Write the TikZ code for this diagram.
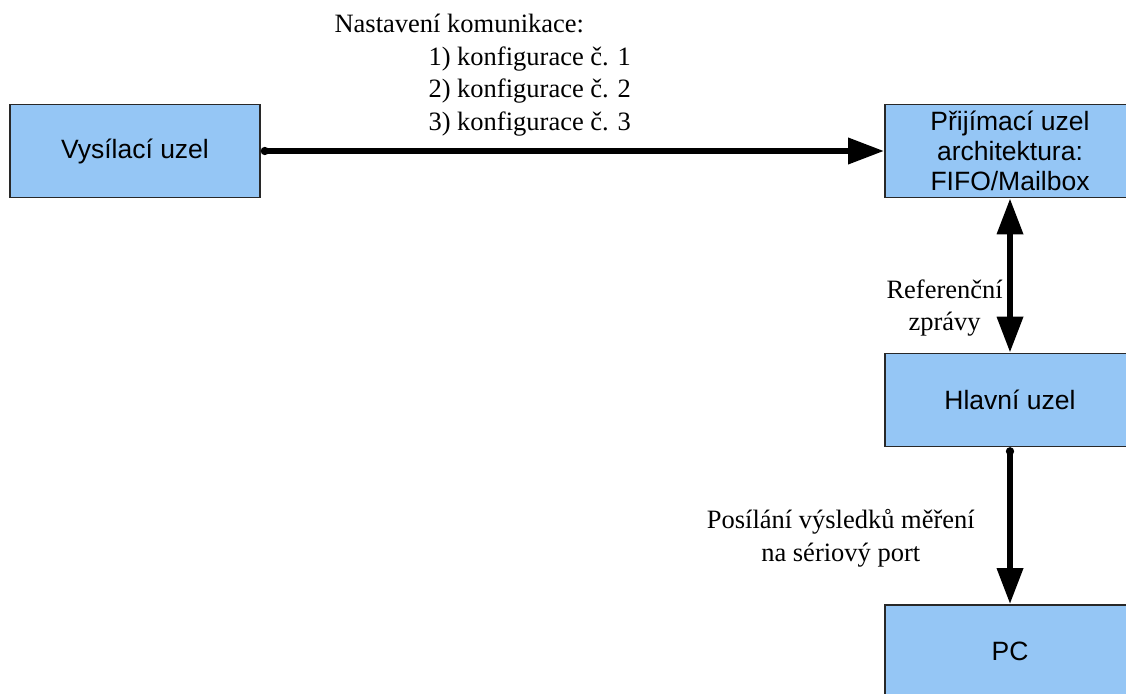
\documentclass[tikz,border=0pt]{standalone}
\usepackage{fontspec}
\setmainfont{Liberation Serif}
\setsansfont{Liberation Sans}
\usepackage{tikz}
\usetikzlibrary{arrows.meta, positioning}
\definecolor{boxblue}{RGB}{149,198,245}
\definecolor{boxframe}{RGB}{40,40,40}
\tikzset{
  unit/.style={rectangle, draw=boxframe, fill=boxblue, line width=1.6pt,
    minimum width=250pt, minimum height=93pt, align=center,
    font=\sffamily\fontsize{26.5}{30}\selectfont},
  note/.style={font=\fontsize{26.5}{32.5}\selectfont, inner sep=2pt},
  link/.style={line width=6.5pt, {Circle[length=8pt]}-{Triangle[length=36pt, width=25pt]}},
  duallink/.style={line width=6.5pt, {Triangle[length=36pt, width=25pt]}-{Triangle[length=36pt, width=25pt]}}
}

\begin{document}
\begin{tikzpicture}[x=1pt, y=-1pt]
  \clip (0,0) rectangle (1126,693);
  % Nodes
  \node[unit] (tx) at (135,151) {Vysílací uzel};
  \node[unit] (rx) at (1010,151) {Přijímací uzel\\architektura:\\FIFO/Mailbox};
  \node[unit] (main) at (1010,400) {Hlavní uzel};
  \node[unit] (pc) at (1010,651.5) {PC};
  % Connectors
  \draw[link] (tx) -- (rx)
    node[note, pos=0.356, above=10pt, align=left] {Nastavení komunikace:\\
      \hspace*{94pt}1) konfigurace č. 1\\
      \hspace*{94pt}2) konfigurace č. 2\\
      \hspace*{94pt}3) konfigurace č. 3};
  \draw[duallink] (rx) -- (main)
    node[note, pos=0.71, left=2pt, align=center] {Referenční\\zprávy};
  \draw[link] (main) -- (pc)
    node[note, pos=0.58, left=30pt, align=center] {Posílání výsledků měření\\na sériový port};
\end{tikzpicture}
\end{document}
